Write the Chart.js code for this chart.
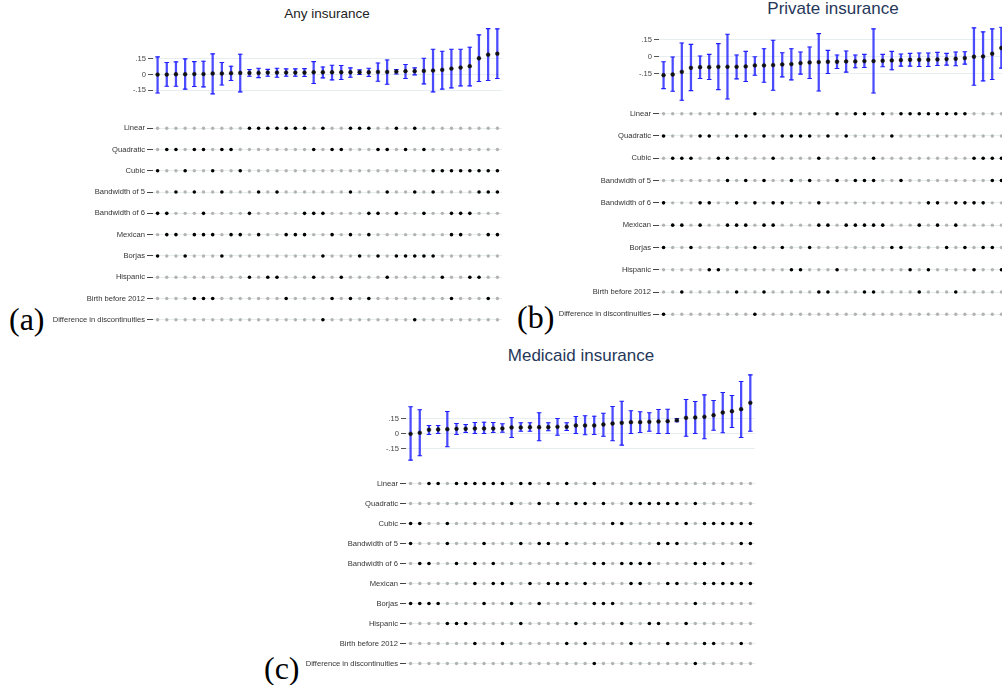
<!DOCTYPE html>
<html>
<head>
<meta charset="utf-8">
<script src="https://cdn.jsdelivr.net/npm/chart.js@4.4.1/dist/chart.umd.min.js"></script>
<style>
  body { margin: 0; width: 1002px; height: 685px; overflow: hidden; background: #fff; position: relative; font-family: 'Liberation Sans', Arial, sans-serif; }
  canvas { position: absolute; }
  .ttl { position: absolute; transform: translate(-50%, -50%); white-space: nowrap; }
  .tag { position: absolute; font-family: 'Liberation Serif', 'DejaVu Serif', serif; font-size: 32px; line-height: 32px; }
</style>
</head>
<body>
<div class="ttl" style="left:327px;top:13px;font-size:13.5px;color:#222">Any insurance</div>
<div class="ttl" style="left:833px;top:9px;font-size:17px;color:#26375a">Private insurance</div>
<div class="ttl" style="left:581px;top:356px;font-size:17px;color:#26375a">Medicaid insurance</div>
<div class="tag" style="left:9px;top:303px">(a)</div>
<div class="tag" style="left:517px;top:301px">(b)</div>
<div class="tag" style="left:264px;top:652px">(c)</div>

<canvas id="errA" width="400" height="120"></canvas>
<canvas id="dotA" width="400" height="240"></canvas>
<canvas id="errB" width="400" height="120"></canvas>
<canvas id="dotB" width="400" height="240"></canvas>
<canvas id="errC" width="400" height="120"></canvas>
<canvas id="dotC" width="400" height="240"></canvas>

<script>
// specification rows (same for all three panels)
const specRows = ['Linear', 'Quadratic', 'Cubic', 'Bandwidth of 5', 'Bandwidth of 6', 'Mexican', 'Borjas', 'Hispanic', 'Birth before 2012', 'Difference in discontinuities'];
const yTicks = [-0.15, 0, 0.15];

// (a) Any insurance
const anyEst = [0.000, 0.000, 0.003, 0.003, 0.005, 0.005, 0.010, 0.010, 0.013, 0.016, 0.016, 0.016, 0.019, 0.019, 0.019, 0.019, 0.019, 0.022, 0.022, 0.022, 0.022, 0.022, 0.022, 0.022, 0.025, 0.025, 0.029, 0.032, 0.032, 0.035, 0.038, 0.045, 0.057, 0.067, 0.080, 0.156, 0.190, 0.200];
const anyHi = [0.169, 0.115, 0.121, 0.150, 0.124, 0.128, 0.198, 0.115, 0.080, 0.195, 0.048, 0.060, 0.050, 0.060, 0.054, 0.054, 0.057, 0.124, 0.073, 0.089, 0.086, 0.064, 0.045, 0.060, 0.110, 0.140, 0.048, 0.096, 0.064, 0.156, 0.242, 0.223, 0.242, 0.242, 0.262, 0.380, 0.440, 0.437];
const anyLo = [-0.176, -0.112, -0.112, -0.140, -0.115, -0.118, -0.185, -0.100, -0.057, -0.166, -0.016, -0.029, -0.016, -0.026, -0.016, -0.016, -0.019, -0.086, -0.032, -0.051, -0.048, -0.026, 0.000, -0.019, -0.064, -0.093, 0.006, -0.038, -0.003, -0.089, -0.166, -0.140, -0.128, -0.108, -0.108, -0.067, -0.057, -0.038];
const anySel = [
  [10, 11, 12, 13, 14, 15, 16, 18, 21, 22, 23, 26, 28],
  [1, 2, 4, 5, 7, 8, 17, 19, 20, 24, 25, 27, 29],
  [0, 3, 6, 9, 30, 31, 32, 33, 34, 35, 36, 37],
  [2, 4, 7, 11, 13, 21, 25, 28, 30, 35, 36, 37],
  [0, 1, 5, 10, 16, 17, 18, 23, 24, 26, 29, 32, 33, 34],
  [1, 2, 4, 5, 6, 8, 9, 11, 14, 15, 16, 19, 21, 23, 32, 33, 36, 37],
  [0, 3, 7, 18, 22, 24, 26, 27, 28, 29, 30],
  [10, 12, 13, 17, 20, 25, 31, 34, 35],
  [4, 5, 6, 14, 19, 21, 23, 32, 36],
  [18, 28]
];

// (b) Private insurance
const privEst = [-0.165, -0.159, -0.135, -0.099, -0.093, -0.093, -0.090, -0.090, -0.090, -0.087, -0.078, -0.078, -0.075, -0.069, -0.066, -0.057, -0.051, -0.048, -0.045, -0.045, -0.042, -0.042, -0.039, -0.039, -0.036, -0.033, -0.030, -0.027, -0.027, -0.027, -0.024, -0.021, -0.018, -0.012, 0.000, 0.003, 0.027, 0.078];
const privHi = [-0.045, -0.003, 0.123, 0.111, 0.006, 0.021, 0.117, 0.201, 0.015, 0.048, 0.000, 0.072, 0.147, 0.036, 0.072, 0.042, 0.087, 0.207, 0.057, 0.015, 0.051, 0.015, 0.021, 0.249, 0.021, 0.048, 0.024, 0.030, 0.033, 0.033, 0.039, 0.030, 0.042, 0.045, 0.258, 0.222, 0.249, 0.264];
const privLo = [-0.285, -0.309, -0.390, -0.303, -0.195, -0.204, -0.294, -0.378, -0.198, -0.222, -0.165, -0.228, -0.300, -0.180, -0.207, -0.156, -0.195, -0.306, -0.150, -0.105, -0.138, -0.099, -0.096, -0.324, -0.090, -0.117, -0.084, -0.084, -0.087, -0.087, -0.078, -0.075, -0.081, -0.066, -0.255, -0.216, -0.204, -0.102];
const privSel = [
  [10, 19, 21, 22, 24, 26, 27, 28, 29, 30, 31, 32, 33],
  [0, 4, 5, 8, 9, 11, 13, 14, 15, 16, 18, 20, 25],
  [1, 2, 3, 6, 7, 12, 17, 23, 34, 35, 36, 37],
  [7, 9, 11, 14, 16, 19, 21, 22, 23, 26, 36, 37],
  [0, 4, 5, 8, 10, 12, 13, 17, 29, 30, 32, 33, 34, 35],
  [1, 2, 4, 7, 8, 9, 11, 12, 17, 18, 20, 21, 22, 23, 24, 28, 30, 32],
  [0, 3, 10, 13, 16, 25, 26, 31, 33, 35, 36],
  [5, 6, 14, 15, 19, 27, 29, 34, 37],
  [2, 8, 11, 17, 18, 22, 23, 28, 32],
  [0, 10]
];

// (c) Medicaid insurance
const medEst = [-0.003, 0.007, 0.037, 0.040, 0.043, 0.047, 0.047, 0.050, 0.050, 0.050, 0.050, 0.060, 0.060, 0.063, 0.063, 0.063, 0.067, 0.067, 0.080, 0.080, 0.080, 0.090, 0.100, 0.107, 0.113, 0.113, 0.117, 0.120, 0.123, 0.133, 0.157, 0.160, 0.167, 0.183, 0.210, 0.223, 0.243, 0.307];
const medHi = [0.267, 0.237, 0.080, 0.080, 0.220, 0.100, 0.090, 0.110, 0.113, 0.110, 0.097, 0.160, 0.107, 0.107, 0.207, 0.107, 0.150, 0.107, 0.170, 0.177, 0.173, 0.203, 0.270, 0.323, 0.227, 0.217, 0.207, 0.240, 0.243, 0.150, 0.340, 0.320, 0.387, 0.330, 0.410, 0.380, 0.520, 0.587];
const medLo = [-0.267, -0.223, -0.010, 0.000, -0.133, -0.010, 0.010, 0.000, 0.000, 0.010, 0.013, -0.040, 0.023, 0.023, -0.073, 0.027, -0.017, 0.030, 0.000, -0.013, -0.010, -0.027, -0.073, -0.117, 0.000, 0.010, 0.023, 0.000, 0.000, 0.117, -0.027, 0.000, -0.053, 0.033, 0.007, 0.060, -0.040, 0.023];
const medSel = [
  [2, 3, 5, 6, 7, 8, 9, 10, 12, 13, 15, 17, 20],
  [11, 14, 16, 18, 19, 21, 24, 25, 26, 27, 28, 29, 31],
  [0, 1, 4, 22, 23, 30, 32, 33, 34, 35, 36, 37],
  [0, 4, 8, 12, 14, 15, 17, 27, 28, 29, 36, 37],
  [1, 2, 5, 7, 9, 20, 21, 23, 24, 25, 26, 31, 32, 34],
  [7, 9, 10, 13, 15, 16, 17, 19, 24, 25, 28, 29, 32, 33, 34, 35, 36, 37],
  [0, 1, 2, 3, 8, 11, 14, 20, 21, 22, 31],
  [4, 5, 6, 12, 18, 23, 26, 27, 30],
  [7, 10, 17, 19, 24, 28, 32, 33, 36],
  [20, 31]
];

Chart.defaults.font.family = "'Liberation Sans', Arial, sans-serif";
const AXW = 115;
const BLUE = '#1f1fff';

// move / resize canvas so the plot area lands on the given box
function place(chart, cv, box) {
  const a = chart.chartArea;
  const padR = chart.width - a.right, padB = chart.height - a.bottom;
  cv.style.left = Math.round(box.left - a.left) + 'px';
  cv.style.top = Math.round(box.top - a.top) + 'px';
  chart.resize(Math.round(box.width + a.left + padR), Math.round(box.height + a.top + padB));
}

function fmt(v) {
  if (v === 0) return '0';
  return (v < 0 ? '-' : '') + Math.abs(v).toFixed(2).replace(/^0/, '');
}

function errChart(id, est, lo, hi, yMin, yMax, box) {
  const cv = document.getElementById(id);
  const n = est.length;
  const chart = new Chart(cv, {
    type: 'bar',
    data: {
      datasets: [
        { type: 'line', data: est.map((v, i) => ({ x: i, y: v })), showLine: false, pointRadius: 1.9,
          pointBackgroundColor: '#111', pointBorderColor: '#111', pointBorderWidth: 0.5, order: 1 },
        { type: 'line', data: hi.map((v, i) => ({ x: i, y: v })), showLine: false, pointStyle: 'line', pointRadius: 2.3,
          borderColor: BLUE, pointBorderColor: BLUE, pointBorderWidth: 1.1, order: 2 },
        { type: 'line', data: lo.map((v, i) => ({ x: i, y: v })), showLine: false, pointStyle: 'line', pointRadius: 2.3,
          borderColor: BLUE, pointBorderColor: BLUE, pointBorderWidth: 1.1, order: 2 },
        { type: 'bar', data: lo.map((v, i) => ({ x: i, y: [v, hi[i]] })), backgroundColor: 'rgba(30,30,255,0.8)',
          borderWidth: 0, barThickness: 1.6, order: 3 }
      ]
    },
    options: {
      responsive: false,
      maintainAspectRatio: false,
      animation: false,
      layout: { padding: 0 },
      plugins: { legend: { display: false }, tooltip: { enabled: false } },
      scales: {
        x: { type: 'linear', min: -0.5, max: n - 0.5, offset: false, display: false },
        y: {
          min: yMin, max: yMax,
          border: { display: false },
          afterBuildTicks: s => { s.ticks = yTicks.map(v => ({ value: v })); },
          afterFit: s => { s.width = AXW; },
          grid: { color: '#e6eef0', tickColor: '#555', tickLength: 5 },
          ticks: { font: { size: 7.6 }, color: '#444', padding: 2, callback: v => fmt(v) }
        }
      }
    }
  });
  place(chart, cv, box);
}

function dotChart(id, sel, n, box) {
  const cv = document.getElementById(id);
  const on = [], off = [];
  sel.forEach((idx, r) => {
    for (let i = 0; i < n; i++) (idx.includes(i) ? on : off).push({ x: i, y: r });
  });
  const chart = new Chart(cv, {
    type: 'scatter',
    data: {
      datasets: [
        { data: off, pointRadius: 1.7, backgroundColor: '#b3b3b3', borderWidth: 0 },
        { data: on, pointRadius: 1.8, backgroundColor: '#000', borderWidth: 0 }
      ]
    },
    options: {
      responsive: false,
      maintainAspectRatio: false,
      animation: false,
      layout: { padding: 0 },
      plugins: { legend: { display: false }, tooltip: { enabled: false } },
      scales: {
        x: { type: 'linear', min: -0.5, max: n - 0.5, display: false },
        y: {
          min: -0.5, max: specRows.length - 0.5, reverse: true,
          border: { display: false },
          afterBuildTicks: s => { s.ticks = specRows.map((t, i) => ({ value: i })); },
          afterFit: s => { s.width = AXW; },
          grid: { color: '#e6eef0', tickColor: '#444', tickLength: 6 },
          ticks: { font: { size: 7.6 }, color: '#333', padding: 2, callback: v => specRows[v] }
        }
      }
    }
  });
  place(chart, cv, box);
}

errChart('errA', anyEst, anyLo, anyHi, -0.2, 0.45, { left: 152.7, top: 27.9, width: 349, height: 68.1 });
dotChart('dotA', anySel, anyEst.length, { left: 152.7, top: 117.3, width: 349, height: 213.3 });

errChart('errB', privEst, privLo, privHi, -0.4, 0.27, { left: 659.4, top: 27, width: 347, height: 74.4 });
dotChart('dotB', privSel, privEst.length, { left: 659.4, top: 102.2, width: 347, height: 223.3 });

errChart('errC', medEst, medLo, medHi, -0.3, 0.6, { left: 406.4, top: 373.3, width: 349.2, height: 90 });
dotChart('dotC', medSel, medEst.length, { left: 406.4, top: 473.3, width: 349.2, height: 200 });
</script>
</body>
</html>
